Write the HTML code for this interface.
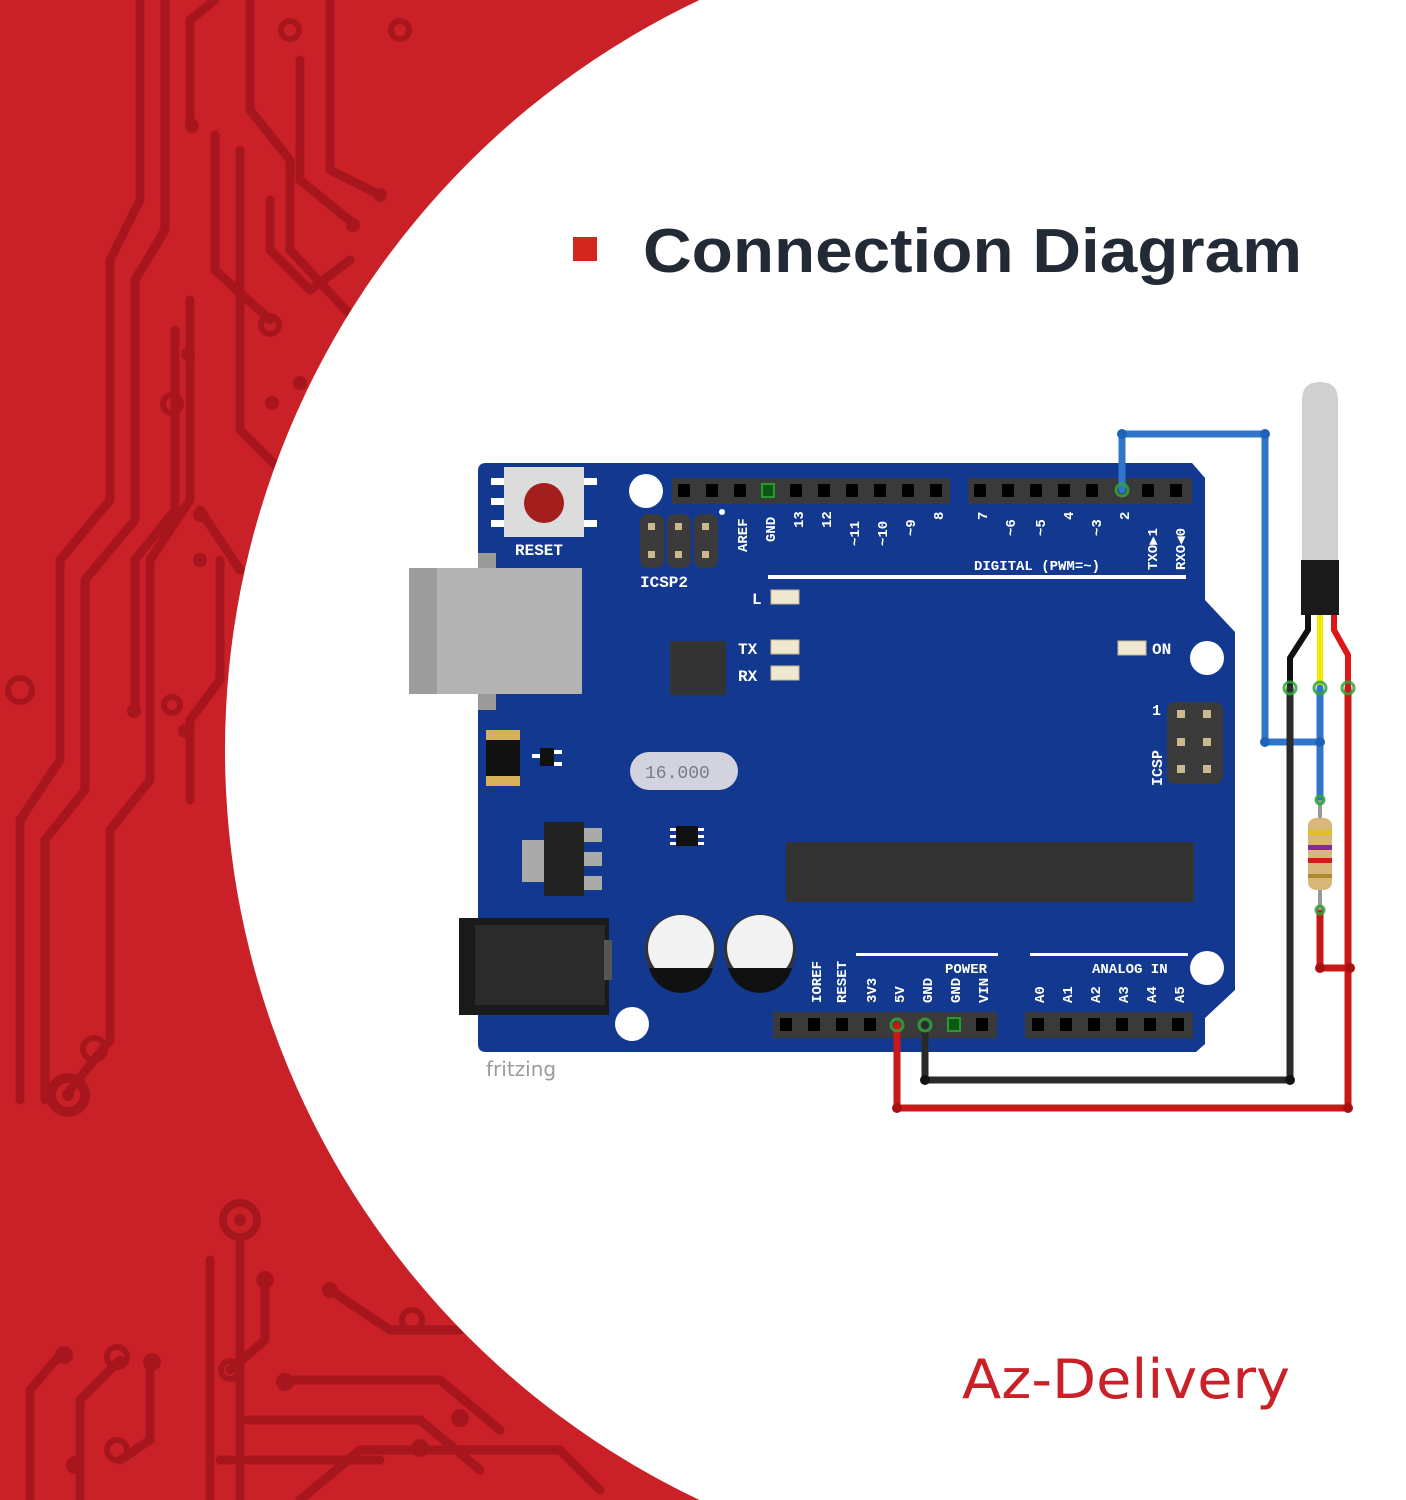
<!DOCTYPE html>
<html><head><style>
html,body{margin:0;padding:0;width:1406px;height:1500px;overflow:hidden;background:#fff}
svg{display:block}
text{font-family:"Liberation Mono",monospace}
</style></head><body>
<svg width="1406" height="1500" viewBox="0 0 1406 1500" xmlns="http://www.w3.org/2000/svg">
<rect width="1406" height="1500" fill="#c92127"/>
<g stroke="#a8161d" stroke-width="9" fill="none" stroke-linecap="round" stroke-linejoin="round">
<polyline points="20,1100 20,820 60,760 60,560 110,500 110,260 140,200 140,0"/>
<polyline points="45,1100 45,840 85,790 85,580 135,520 135,280 165,230 165,0"/>
<polyline points="70,1090 110,1040 110,830 150,780 150,560 190,500 190,300"/>
<polyline points="135,710 135,560 175,510 175,330"/>
<polyline points="190,125 190,20 215,0"/>
<polyline points="215,135 215,270 270,320"/>
<polyline points="250,0 250,110 290,160 290,250 355,320"/>
<polyline points="240,150 240,430 300,490"/>
<polyline points="270,200 270,250 310,290 350,260"/>
<polyline points="300,60 300,180 355,225"/>
<polyline points="330,0 330,170 380,195"/>
<polyline points="220,560 220,680 190,720 190,800"/>
<polyline points="200,510 240,570"/>
<polyline points="240,1240 240,1500"/>
<polyline points="210,1260 210,1500"/>
<polyline points="265,1280 265,1340 230,1370"/>
<polyline points="60,1355 30,1390 30,1500"/>
<polyline points="120,1360 80,1400 80,1500"/>
<polyline points="150,1360 150,1440 120,1460"/>
<polyline points="285,1380 440,1380 500,1430"/>
<polyline points="330,1290 390,1330 460,1330"/>
<polyline points="240,1420 420,1420 480,1470"/>
<polyline points="220,1460 380,1460"/>
<polyline points="300,1500 360,1450 560,1450 600,1490"/>
</g>
<g fill="none" stroke="#a8161d" stroke-width="6">
<circle cx="290" cy="30" r="9"/><circle cx="400" cy="30" r="9"/><circle cx="270" cy="325" r="9"/><circle cx="172" cy="404" r="9"/>
<circle cx="20" cy="690" r="12"/><circle cx="94" cy="1049" r="11"/><circle cx="117" cy="1357" r="10"/><circle cx="230" cy="1370" r="9"/>
<circle cx="412" cy="1320" r="10"/><circle cx="117" cy="1450" r="10"/><circle cx="172" cy="705" r="8"/>
<circle cx="240" cy="1220" r="17" stroke-width="8"/><circle cx="68" cy="1095" r="17" stroke-width="10"/>
</g>
<g fill="#a8161d">
<circle cx="192" cy="126" r="7"/><circle cx="353" cy="225" r="7"/><circle cx="380" cy="195" r="7"/><circle cx="188" cy="354" r="7"/>
<circle cx="272" cy="403" r="7"/><circle cx="300" cy="383" r="7"/><circle cx="185" cy="731" r="7"/><circle cx="134" cy="711" r="7"/>
<circle cx="200" cy="515" r="7"/><circle cx="200" cy="560" r="7"/><circle cx="265" cy="1280" r="9"/><circle cx="64" cy="1355" r="9"/>
<circle cx="152" cy="1362" r="9"/><circle cx="75" cy="1465" r="9"/><circle cx="285" cy="1382" r="9"/><circle cx="330" cy="1290" r="8"/>
<circle cx="460" cy="1418" r="9"/><circle cx="420" cy="1448" r="9"/><circle cx="240" cy="1220" r="6"/><circle cx="68" cy="1095" r="6"/>
</g>
<circle cx="1055" cy="750" r="830" fill="#fff"/>
<rect x="573" y="237" width="24" height="24" fill="#d4261d"/>
<text x="643" y="272" textLength="659" lengthAdjust="spacingAndGlyphs" style="font-family:'Liberation Sans',sans-serif;font-weight:bold;font-size:62px" fill="#222a36">Connection Diagram</text>
<text x="962" y="1398" textLength="328" lengthAdjust="spacingAndGlyphs" style="font-family:'DejaVu Sans',sans-serif;font-size:54px" fill="#c92127">Az-Delivery</text>

<path d="M486,463 L1192,463 L1205,478 L1205,600 L1235,632 L1235,990 L1205,1018 L1205,1044 L1196,1052 L486,1052 Q478,1052 478,1044 L478,471 Q478,463 486,463 Z" fill="#12398f"/>
<rect x="491" y="478" width="14" height="7" fill="#fff"/><rect x="491" y="498" width="14" height="7" fill="#fff"/><rect x="491" y="520" width="14" height="7" fill="#fff"/>
<rect x="583" y="478" width="14" height="7" fill="#fff"/><rect x="583" y="520" width="14" height="7" fill="#fff"/>
<rect x="504" y="467" width="80" height="70" fill="#dcdcdc"/>
<circle cx="544" cy="503" r="20" fill="#a41e1e"/>
<text x="515" y="555" font-size="16" font-weight="bold" fill="#fff">RESET</text>
<circle cx="646" cy="491" r="17" fill="#fff"/>
<circle cx="722" cy="512" r="3" fill="#fff"/>
<g fill="#3b3b3b"><rect x="640" y="514" width="24" height="54" rx="8"/><rect x="667" y="514" width="24" height="54" rx="8"/><rect x="694" y="514" width="24" height="54" rx="8"/></g>
<g fill="#c9b98f"><rect x="648" y="523" width="7" height="7"/><rect x="675" y="523" width="7" height="7"/><rect x="702" y="523" width="7" height="7"/><rect x="648" y="551" width="7" height="7"/><rect x="675" y="551" width="7" height="7"/><rect x="702" y="551" width="7" height="7"/></g>
<text x="640" y="587" font-size="16" font-weight="bold" fill="#fff">ICSP2</text>
<rect x="672" y="478" width="278" height="26" fill="#3a3a3a"/>
<rect x="968" y="478" width="224" height="26" fill="#3a3a3a"/>
<g fill="#000">
<rect x="678" y="484" width="12" height="13"/><rect x="706" y="484" width="12" height="13"/><rect x="734" y="484" width="12" height="13"/>
<rect x="790" y="484" width="12" height="13"/><rect x="818" y="484" width="12" height="13"/><rect x="846" y="484" width="12" height="13"/><rect x="874" y="484" width="12" height="13"/><rect x="902" y="484" width="12" height="13"/><rect x="930" y="484" width="12" height="13"/>
<rect x="974" y="484" width="12" height="13"/><rect x="1002" y="484" width="12" height="13"/><rect x="1030" y="484" width="12" height="13"/><rect x="1058" y="484" width="12" height="13"/><rect x="1086" y="484" width="12" height="13"/><rect x="1142" y="484" width="12" height="13"/><rect x="1170" y="484" width="12" height="13"/>
</g>
<rect x="762" y="484" width="12" height="13" fill="#0b5a12" stroke="#2a9a30" stroke-width="2"/>
<g font-size="14" font-weight="bold" fill="#fff">
<text transform="translate(747,552) rotate(-90)">AREF</text>
<text transform="translate(775,542) rotate(-90)">GND</text>
<text transform="translate(803,528) rotate(-90)">13</text>
<text transform="translate(831,528) rotate(-90)">12</text>
<text transform="translate(859,546) rotate(-90)">~11</text>
<text transform="translate(887,546) rotate(-90)">~10</text>
<text transform="translate(915,536) rotate(-90)">~9</text>
<text transform="translate(943,520) rotate(-90)">8</text>
<text transform="translate(987,520) rotate(-90)">7</text>
<text transform="translate(1015,536) rotate(-90)">~6</text>
<text transform="translate(1045,536) rotate(-90)">~5</text>
<text transform="translate(1073,520) rotate(-90)">4</text>
<text transform="translate(1101,536) rotate(-90)">~3</text>
<text transform="translate(1129,520) rotate(-90)">2</text>
<text transform="translate(1157,570) rotate(-90)">TXO▶1</text>
<text transform="translate(1185,570) rotate(-90)">RXO◀0</text>
<text x="974" y="570">DIGITAL (PWM=~)</text>
<text x="752" y="604" font-size="16">L</text>
<text x="738" y="654" font-size="16">TX</text>
<text x="738" y="681" font-size="16">RX</text>
<text x="1152" y="654" font-size="16">ON</text>
<text x="1152" y="715" font-size="15">1</text>
<text transform="translate(1162,786) rotate(-90)" font-size="15">ICSP</text>
</g>
<rect x="768" y="575" width="418" height="4" fill="#fff"/>
<g fill="#efe7cf" stroke="#c8b98a" stroke-width="1"><rect x="771" y="590" width="28" height="14"/><rect x="771" y="640" width="28" height="14"/><rect x="771" y="666" width="28" height="14"/><rect x="1118" y="641" width="28" height="14"/></g>
<rect x="670" y="641" width="56" height="54" fill="#333"/>
<circle cx="1207" cy="658" r="17" fill="#fff"/>
<rect x="1167" y="702" width="56" height="82" rx="8" fill="#3b3b3b"/>
<g fill="#c9b98f"><rect x="1177" y="710" width="8" height="8"/><rect x="1203" y="710" width="8" height="8"/><rect x="1177" y="738" width="8" height="8"/><rect x="1203" y="738" width="8" height="8"/><rect x="1177" y="765" width="8" height="8"/><rect x="1203" y="765" width="8" height="8"/></g>
<rect x="478" y="553" width="18" height="157" fill="#9a9a9a"/>
<rect x="409" y="568" width="173" height="126" fill="#b3b3b3"/>
<rect x="409" y="568" width="28" height="126" fill="#9c9c9c"/>
<rect x="486" y="730" width="34" height="56" fill="#d4b15a"/><rect x="486" y="740" width="34" height="36" fill="#111"/>
<rect x="540" y="748" width="14" height="18" fill="#111"/><rect x="532" y="754" width="8" height="4" fill="#fff"/><rect x="554" y="750" width="8" height="4" fill="#fff"/><rect x="554" y="762" width="8" height="4" fill="#fff"/>
<rect x="630" y="752" width="108" height="38" rx="19" fill="#d3d3df"/>
<text x="645" y="778" font-size="18" fill="#7a7a8a">16.000</text>
<rect x="676" y="826" width="22" height="20" fill="#111"/>
<g fill="#fff"><rect x="670" y="828" width="6" height="3"/><rect x="670" y="835" width="6" height="3"/><rect x="670" y="842" width="6" height="3"/><rect x="698" y="828" width="6" height="3"/><rect x="698" y="835" width="6" height="3"/><rect x="698" y="842" width="6" height="3"/></g>
<rect x="522" y="840" width="22" height="42" fill="#aaa"/>
<rect x="544" y="822" width="40" height="74" fill="#222"/>
<rect x="584" y="828" width="18" height="14" fill="#aaa"/><rect x="584" y="852" width="18" height="14" fill="#aaa"/><rect x="584" y="876" width="18" height="14" fill="#aaa"/>
<rect x="459" y="918" width="150" height="97" fill="#1a1a1a"/>
<rect x="475" y="925" width="130" height="80" fill="#2b2b2b"/>
<rect x="604" y="940" width="8" height="40" fill="#555"/>
<circle cx="681" cy="950" r="36" fill="#333"/><circle cx="681" cy="948" r="33" fill="#f2f2f2"/><path d="M649,968 L713,968 A33,33 0 0 1 649,968 Z" fill="#111"/>
<circle cx="760" cy="950" r="36" fill="#333"/><circle cx="760" cy="948" r="33" fill="#f2f2f2"/><path d="M728,968 L792,968 A33,33 0 0 1 728,968 Z" fill="#111"/>
<rect x="786" y="842" width="408" height="60" fill="#333"/>
<circle cx="1207" cy="968" r="17" fill="#fff"/>
<circle cx="632" cy="1024" r="17" fill="#fff"/>
<rect x="856" y="953" width="142" height="3" fill="#fff"/>
<rect x="1030" y="953" width="158" height="3" fill="#fff"/>
<g font-size="14" font-weight="bold" fill="#fff">
<text x="945" y="973">POWER</text>
<text x="1092" y="973">ANALOG IN</text>
<text transform="translate(821,1003) rotate(-90)">IOREF</text>
<text transform="translate(846,1003) rotate(-90)">RESET</text>
<text transform="translate(876,1003) rotate(-90)">3V3</text>
<text transform="translate(904,1003) rotate(-90)">5V</text>
<text transform="translate(932,1003) rotate(-90)">GND</text>
<text transform="translate(960,1003) rotate(-90)">GND</text>
<text transform="translate(988,1003) rotate(-90)">VIN</text>
<text transform="translate(1044,1003) rotate(-90)">A0</text>
<text transform="translate(1072,1003) rotate(-90)">A1</text>
<text transform="translate(1100,1003) rotate(-90)">A2</text>
<text transform="translate(1128,1003) rotate(-90)">A3</text>
<text transform="translate(1156,1003) rotate(-90)">A4</text>
<text transform="translate(1184,1003) rotate(-90)">A5</text>
</g>
<rect x="773" y="1012" width="224" height="26" fill="#3a3a3a"/>
<rect x="1025" y="1012" width="168" height="26" fill="#3a3a3a"/>
<g fill="#000">
<rect x="780" y="1018" width="12" height="13"/><rect x="808" y="1018" width="12" height="13"/><rect x="836" y="1018" width="12" height="13"/><rect x="864" y="1018" width="12" height="13"/><rect x="976" y="1018" width="12" height="13"/>
<rect x="1032" y="1018" width="12" height="13"/><rect x="1060" y="1018" width="12" height="13"/><rect x="1088" y="1018" width="12" height="13"/><rect x="1116" y="1018" width="12" height="13"/><rect x="1144" y="1018" width="12" height="13"/><rect x="1172" y="1018" width="12" height="13"/>
</g>
<rect x="948" y="1018" width="12" height="13" fill="#0b5a12" stroke="#2a9a30" stroke-width="2"/>
<text x="486" y="1076" style="font-family:'DejaVu Sans',sans-serif;font-size:20px" fill="#9a9a9a">fritzing</text>

<path d="M1302,400 Q1302,382 1320,382 Q1338,382 1338,400 L1338,560 L1302,560 Z" fill="#d0d0d0"/>
<rect x="1301" y="560" width="38" height="55" fill="#1a1a1a"/>
<g fill="none" stroke-width="6" stroke-linejoin="round">
<polyline points="1308,615 1308,630 1290,658 1290,688" stroke="#111"/>
<polyline points="1320,615 1320,688" stroke="#f5e900"/>
<polyline points="1334,615 1334,630 1348,655 1348,688" stroke="#e01515"/>
</g>
<g fill="none" stroke-width="7" stroke-linejoin="round" stroke-linecap="round">
<polyline points="1122,490 1122,434 1265,434 1265,742 1320,742" stroke="#2f76cc"/>
<polyline points="1320,688 1320,800" stroke="#2f76cc"/>
<polyline points="1290,688 1290,1080 925,1080 925,1025" stroke="#2a2a2a"/>
<polyline points="1348,688 1348,1108 897,1108 897,1025" stroke="#c81818"/>
<polyline points="1320,910 1320,968 1350,968" stroke="#c81818"/>
</g>
<g fill="#1e63b8"><circle cx="1122" cy="434" r="5"/><circle cx="1265" cy="434" r="5"/><circle cx="1265" cy="742" r="5"/><circle cx="1320" cy="742" r="5"/></g>
<g fill="#111"><circle cx="925" cy="1080" r="5"/><circle cx="1290" cy="1080" r="5"/></g>
<g fill="#a81010"><circle cx="897" cy="1108" r="5"/><circle cx="1348" cy="1108" r="5"/><circle cx="1320" cy="968" r="5"/><circle cx="1350" cy="968" r="5"/></g>
<rect x="1318" y="800" width="4" height="110" fill="#999"/>
<rect x="1308" y="818" width="24" height="72" rx="8" fill="#d8b77a"/>
<rect x="1308" y="830" width="24" height="5" fill="#e0c020"/>
<rect x="1308" y="845" width="24" height="5" fill="#8a2aa0"/>
<rect x="1308" y="858" width="24" height="5" fill="#c82020"/>
<rect x="1308" y="874" width="24" height="4" fill="#b08a30"/>
<g fill="none" stroke="#2fa63a" stroke-width="3" opacity="0.85">
<circle cx="1122" cy="490" r="6"/><circle cx="1290" cy="688" r="6"/><circle cx="1320" cy="688" r="6"/><circle cx="1348" cy="688" r="6"/>
<circle cx="897" cy="1025" r="6"/><circle cx="925" cy="1025" r="6"/><circle cx="1320" cy="800" r="4"/><circle cx="1320" cy="910" r="4"/>
</g>
</svg>
</body></html>
